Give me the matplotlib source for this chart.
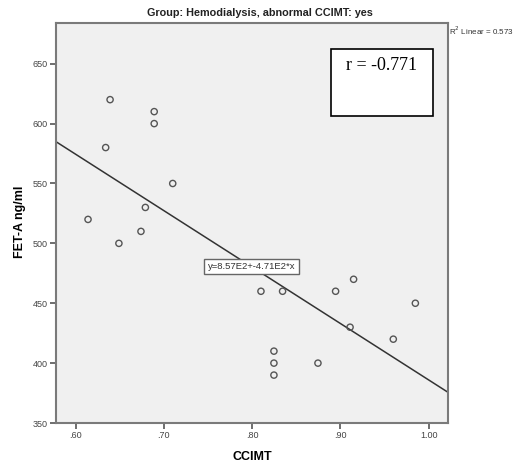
import numpy as np
import matplotlib
matplotlib.use("Agg")
import matplotlib.pyplot as plt
from matplotlib.patches import Rectangle

# CCIMT vs FET-A, hemodialysis group with abnormal CCIMT
ccimt = [0.614, 0.639, 0.634, 0.649, 0.674, 0.679, 0.689, 0.689, 0.710,
         0.810, 0.8345, 0.8946, 0.915, 0.985, 0.911, 0.960,
         0.8247, 0.8247, 0.8247, 0.8746]
feta = [520, 620, 580, 500, 510, 530, 610, 600, 550,
        460, 460, 460, 470, 450, 430, 420,
        410, 400, 390, 400]
intercept = 857.0
slope = -471.0
r2 = 0.573
r_value = -0.771

xticks = [0.6, 0.7, 0.8, 0.9, 1.0]
xticklabels = [".60", ".70", ".80", ".90", "1.00"]
yticks = [350, 400, 450, 500, 550, 600, 650]

plt.rcParams['font.family'] = ['Liberation Sans', 'DejaVu Sans']

fig = plt.figure(figsize=(5.25, 4.68), dpi=100)
ax = fig.add_axes([56 / 525, 45 / 468, 392 / 525, 400 / 468])
ax.set_facecolor('#f0f0f0')

xlim = (0.5777, 1.022)
ax.set_xlim(xlim)
ax.set_ylim(350, 684)

ax.scatter(ccimt, feta, s=20, facecolors='none', edgecolors='#555555',
           linewidths=1.0, zorder=3)

xx = np.array(xlim)
ax.plot(xx, intercept + slope * xx, color='#333333', lw=1.1, zorder=2)

ax.set_xticks(xticks)
ax.set_xticklabels(xticklabels)
ax.set_yticks(yticks)
ax.tick_params(axis='both', direction='out', length=4, width=1.2,
               color='#555555', labelsize=6.5, labelcolor='#444444', pad=2)
for sp in ax.spines.values():
    sp.set_color('#7a7a7a')
    sp.set_linewidth(1.5)

ax.set_xlabel("CCIMT", fontsize=9, fontweight='bold', labelpad=8)
fig.text(20 / 525, (468 - 222) / 468, "FET-A ng/ml", rotation=90,
         ha='center', va='center', fontsize=9, fontweight='bold')
fig.text(260 / 525, (468 - 13) / 468, "Group: Hemodialysis, abnormal CCIMT: yes",
         ha='center', va='center', fontsize=7.8, fontweight='bold',
         color='#222222')

fig.text(449 / 525, (468 - 31) / 468, "R$^2$ Linear = 0.573", ha='left',
         va='center', fontsize=5.8, color='#333333')

fig.text(251.5 / 525, (468 - 266.5) / 468, "y=8.57E2+-4.71E2*x",
         ha='center', va='center', fontsize=6.8, color='#333333',
         bbox=dict(boxstyle='square,pad=0.35', fc='white', ec='#666666', lw=1))

fig.patches.append(Rectangle((331 / 525, (468 - 116) / 468), 102 / 525,
                             67 / 468, transform=fig.transFigure,
                             fc='white', ec='black', lw=1.2, zorder=5))
fig.text(382 / 525, (468 - 65) / 468, "r = -0.771", ha='center', va='center',
         fontsize=13, family='Liberation Serif', zorder=6)

fig.savefig('out.png', dpi=100)
